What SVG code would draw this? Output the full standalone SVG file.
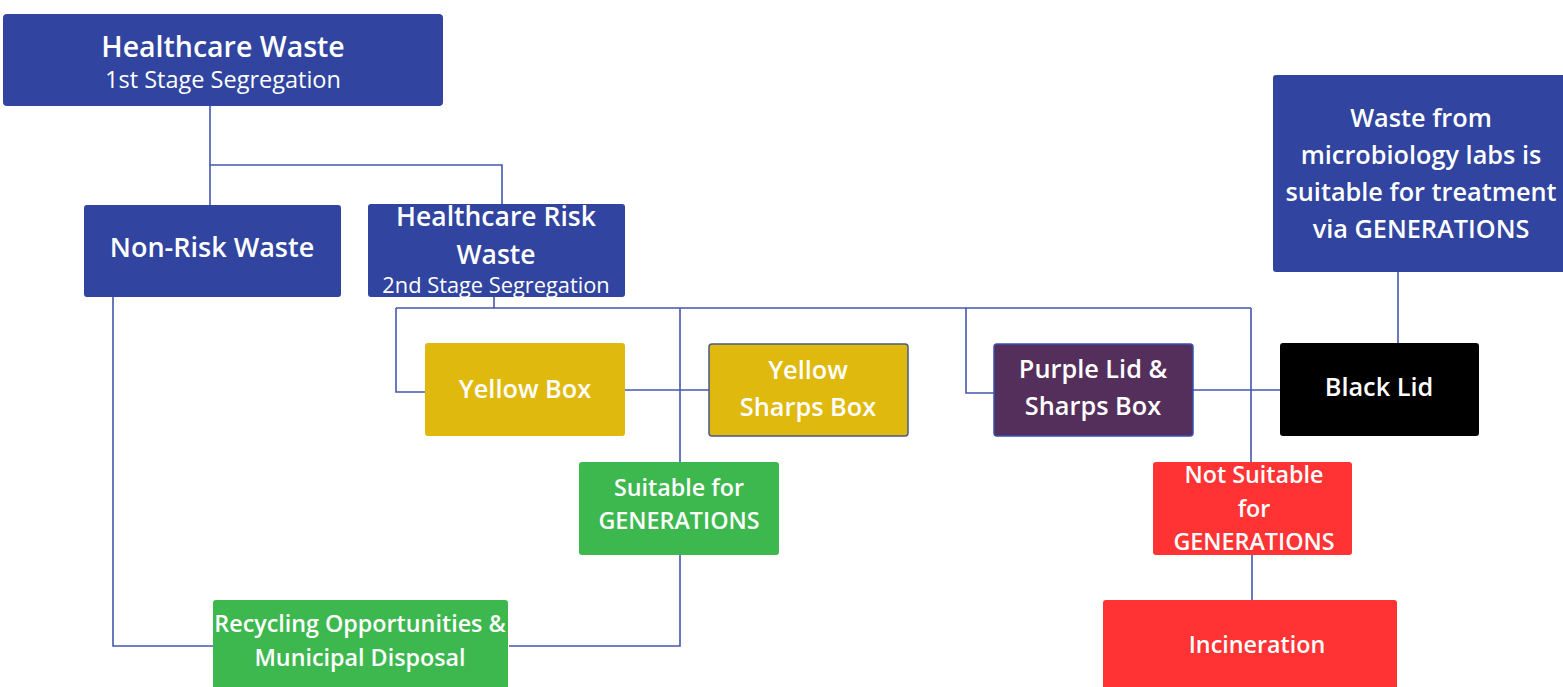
<svg xmlns="http://www.w3.org/2000/svg" width="1563" height="687" viewBox="0 0 1563 687">
<style>
.t{font-family:"Open Sans","Noto Sans",sans-serif;font-weight:600;fill:#fff;text-anchor:middle;dominant-baseline:central}
.s{font-weight:400}
.c{fill:none;stroke:#4556ad;stroke-width:1.6}
.blue{fill:#3044a0}
.yel{fill:#e0b90f}
.pur{fill:#552f5b;stroke:#3a4fb0;stroke-width:1.5}
.blk{fill:#000}
.grn{fill:#3db84f}
.red{fill:#ff3333}
</style>
<rect width="1563" height="687" fill="#fff"/>
<g id="connectors">
<path class="c" d="M210,106V205M210,165H502V205"/>
<path class="c" d="M494,297V308M396,308H1251M396,308V392H425M680,308V462M966,308V393H994M1251,308V462"/>
<path class="c" d="M625,390H709"/>
<path class="c" d="M1193,390H1280"/>
<path class="c" d="M1398,272V350"/>
<path class="c" d="M680,555V646H509"/>
<path class="c" d="M113,297V646H213"/>
<path class="c" d="M1252,555V600"/>
</g>
<g id="healthcare-waste">
<rect class="blue" x="3" y="14" width="440" height="92" rx="4"/>
<text class="t" x="223" y="46" font-size="28.5">Healthcare Waste</text>
<text class="t s" x="223" y="79" font-size="23.5">1st Stage Segregation</text>
</g>
<g id="non-risk">
<rect class="blue" x="84" y="205" width="257" height="92" rx="3"/>
<text class="t" x="212" y="246" font-size="27">Non-Risk Waste</text>
</g>
<g id="risk">
<rect class="blue" x="368" y="204" width="257" height="93" rx="3"/>
<text class="t" x="496" y="216" font-size="26.5">Healthcare Risk</text>
<text class="t" x="496" y="254" font-size="26.5">Waste</text>
<text class="t s" x="496" y="284" font-size="21.8">2nd Stage Segregation</text>
</g>
<g id="microbiology">
<rect class="blue" x="1273" y="75" width="295" height="197" rx="3"/>
<text class="t" x="1421" y="117" font-size="25.3">Waste from</text>
<text class="t" x="1421" y="154" font-size="25.3">microbiology labs is</text>
<text class="t" x="1421" y="191" font-size="25.3">suitable for treatment</text>
<text class="t" x="1421" y="228" font-size="25.3">via GENERATIONS</text>
</g>
<g id="yellow-box">
<rect class="yel" x="425" y="343" width="200" height="93" rx="3"/>
<text class="t" x="525" y="388" font-size="25.3">Yellow Box</text>
</g>
<g id="yellow-sharps">
<rect class="yel" x="709" y="344" width="199" height="92" rx="3" stroke="#4a5a85" stroke-width="1.5"/>
<text class="t" x="808" y="369" font-size="25.3">Yellow</text>
<text class="t" x="808" y="406" font-size="25.3">Sharps Box</text>
</g>
<g id="purple-lid">
<rect class="pur" x="994" y="344" width="199" height="92" rx="3"/>
<text class="t" x="1093" y="368" font-size="25.3">Purple Lid &amp;</text>
<text class="t" x="1093" y="405" font-size="25.3">Sharps Box</text>
</g>
<g id="black-lid">
<rect class="blk" x="1280" y="343" width="199" height="93" rx="3"/>
<text class="t" x="1379" y="386" font-size="25.3">Black Lid</text>
</g>
<g id="suitable">
<rect class="grn" x="579" y="462" width="200" height="93" rx="3"/>
<text class="t" x="679" y="487" font-size="23.3">Suitable for</text>
<text class="t" x="679" y="520" font-size="23.3">GENERATIONS</text>
</g>
<g id="not-suitable">
<rect class="red" x="1153" y="462" width="199" height="93" rx="3"/>
<text class="t" x="1254" y="474" font-size="23.3">Not Suitable</text>
<text class="t" x="1254" y="508" font-size="23.3">for</text>
<text class="t" x="1254" y="541" font-size="23.3">GENERATIONS</text>
</g>
<g id="recycling">
<rect class="grn" x="213" y="600" width="295" height="92" rx="3"/>
<text class="t" x="360" y="623" font-size="23.3">Recycling Opportunities &amp;</text>
<text class="t" x="360" y="657" font-size="23.3">Municipal Disposal</text>
</g>
<g id="incineration">
<rect class="red" x="1103" y="600" width="294" height="92" rx="3"/>
<text class="t" x="1257" y="644" font-size="23.3">Incineration</text>
</g>
</svg>
